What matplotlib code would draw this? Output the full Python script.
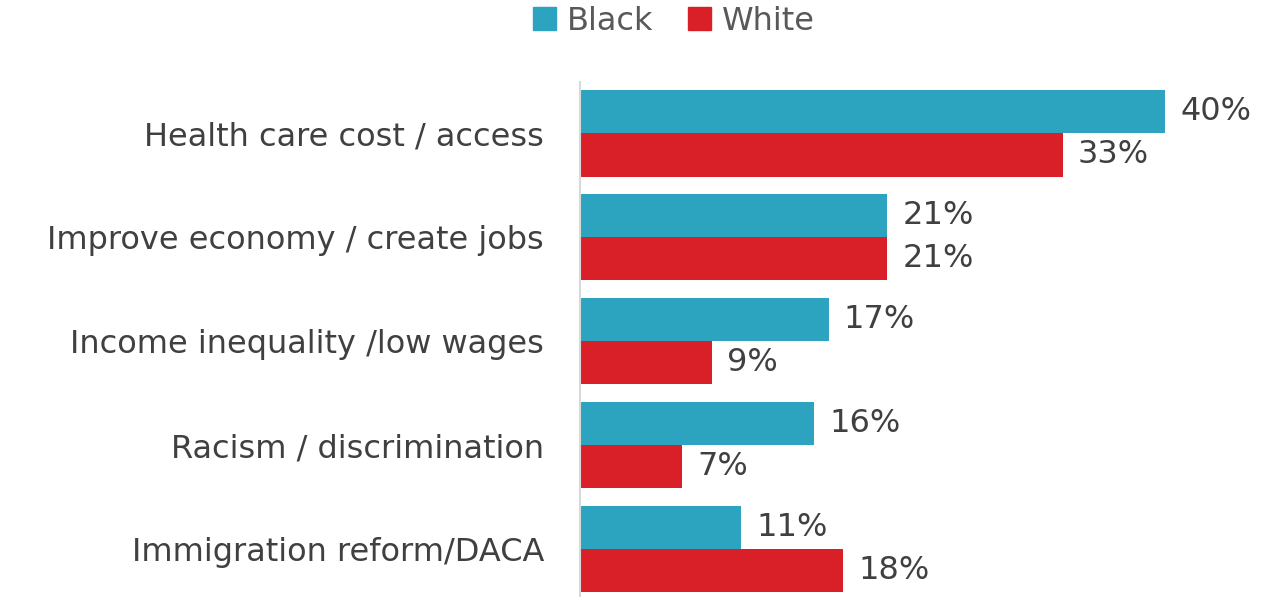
import matplotlib
matplotlib.use("Agg")
import numpy as np
import matplotlib.pyplot as plt
from matplotlib.patches import Patch

#data
categories = ["Health care cost / access", "Improve economy / create jobs",
              "Income inequality /low wages", "Racism / discrimination",
              "Immigration reform/DACA"]
black = [40, 21, 17, 16, 11]
white = [33, 21, 9, 7, 18]

#style
cBlack = "#2CA3BF"
cWhite = "#D91F28"
txt = "#404040"
plt.rcParams['font.family'] = ['DejaVu Sans']

fig = plt.figure(figsize=(12.66, 5.97), dpi=100)
ax = fig.add_axes([580/1266, 0, 1 - 580/1266, 1 - 82/597])

y = np.arange(len(categories))
h = 0.416
b1 = ax.barh(y - h/2, black, height=h, color=cBlack)
b2 = ax.barh(y + h/2, white, height=h, color=cWhite)

for bars, vals in ((b1, black), (b2, white)):
    for rect, v in zip(bars, vals):
        ax.annotate(str(v) + "%", (rect.get_width(), rect.get_y() + rect.get_height()/2),
                    xytext=(11, 0), textcoords="offset points", va="center", ha="left",
                    fontsize=23, color=txt)

ax.set_xlim(0, 46.9)
ax.set_ylim(4.46, -0.493)
ax.set_yticks(y)
ax.set_yticklabels(categories, fontsize=23, color=txt)
ax.tick_params(axis="y", length=0, pad=26)
ax.set_xticks([])
for s in ["top", "right", "bottom"]:
    ax.spines[s].set_visible(False)
ax.spines["left"].set_color("#D9D9D9")
ax.spines["left"].set_linewidth(1.5)

handles = [Patch(color=cBlack, label="Black"), Patch(color=cWhite, label="White")]
leg = fig.legend(handles=handles, loc="center", bbox_to_anchor=(674/1266, 1 - 21/597), ncol=2,
                 frameon=False, fontsize=23, handlelength=0.7, handleheight=0.7,
                 handletextpad=0.35, columnspacing=1.1)
for t in leg.get_texts():
    t.set_color("#595959")

fig.savefig("out.png", dpi=100)
